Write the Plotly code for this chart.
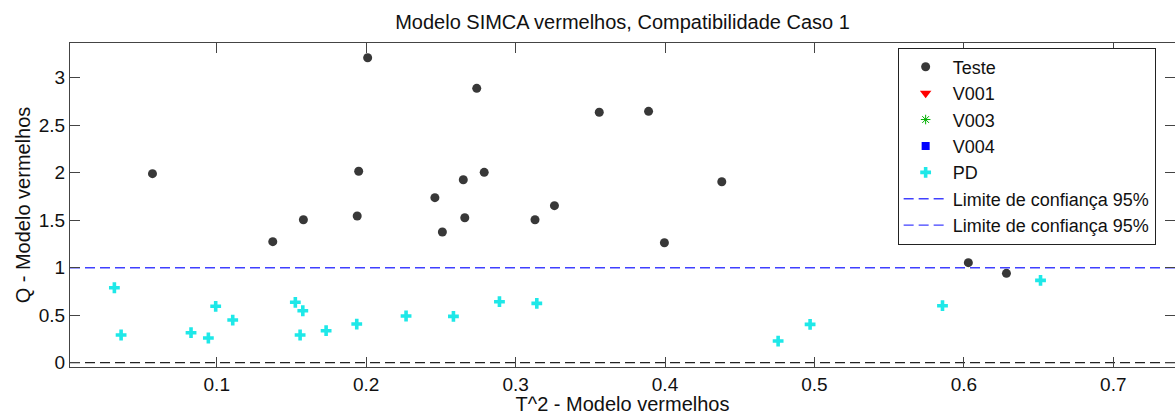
import plotly.graph_objects as go

# ---- data ----
teste_t2 = [0.057, 0.201, 0.195, 0.158, 0.194, 0.1375, 0.274, 0.356, 0.389, 0.265,
            0.279, 0.246, 0.438, 0.266, 0.313, 0.326, 0.251, 0.3996, 0.603, 0.6285]
teste_q = [1.99, 3.21, 2.015, 1.505, 1.544, 1.274, 2.888, 2.636, 2.646, 1.926,
           2.004, 1.737, 1.905, 1.526, 1.505, 1.653, 1.376, 1.263, 1.053, 0.941]

pd_t2 = [0.0315, 0.036, 0.0828, 0.0944, 0.0993, 0.1107, 0.1526, 0.1576, 0.1558, 0.1732,
         0.1937, 0.2267, 0.2584, 0.2892, 0.3142, 0.4757, 0.4971, 0.5857, 0.6513]
pd_q = [0.789, 0.292, 0.316, 0.26, 0.594, 0.449, 0.636, 0.547, 0.292, 0.337,
        0.407, 0.492, 0.488, 0.642, 0.625, 0.228, 0.404, 0.60, 0.867]

q_limit = 1.0
zero_level = 0.0

x_range = [0.0018, 0.7413]
y_range = [-0.045, 3.365]
x_ticks = [0.1, 0.2, 0.3, 0.4, 0.5, 0.6, 0.7]
x_ticklabels = ["0.1", "0.2", "0.3", "0.4", "0.5", "0.6", "0.7"]
y_ticks = [0, 0.5, 1, 1.5, 2, 2.5, 3]
y_ticklabels = ["0", "0.5", "1", "1.5", "2", "2.5", "3"]

FONT = "Liberation Sans, Arial, sans-serif"
DASH = "10px,5px"
BLUE_LINE = "#4040ff"

fig = go.Figure()

fig.add_trace(go.Scatter(
    x=teste_t2, y=teste_q, mode="markers", name="Teste",
    marker=dict(symbol="circle", size=9, color="#383838", line=dict(width=0))))
fig.add_trace(go.Scatter(
    x=[None], y=[None], mode="markers", name="V001",
    marker=dict(symbol="triangle-down", size=10, color="#ff0000", line=dict(width=0))))
fig.add_trace(go.Scatter(
    x=[None], y=[None], mode="markers", name="V003",
    marker=dict(symbol="asterisk-open", size=8, color="#00b000", line=dict(width=1, color="#00b000"))))
fig.add_trace(go.Scatter(
    x=[None], y=[None], mode="markers", name="V004",
    marker=dict(symbol="square", size=8, color="#0000ff", line=dict(width=0))))
fig.add_trace(go.Scatter(
    x=pd_t2, y=pd_q, mode="markers", name="PD",
    marker=dict(symbol="cross", size=9, color="#1ee8e8", line=dict(width=0))))
fig.add_trace(go.Scatter(
    x=x_range, y=[q_limit, q_limit], mode="lines", name="Limite de confiança 95%",
    line=dict(color=BLUE_LINE, width=1.4, dash=DASH)))
fig.add_trace(go.Scatter(
    x=[None], y=[None], mode="lines", name="Limite de confiança 95%",
    line=dict(color=BLUE_LINE, width=1.4, dash=DASH)))
fig.add_trace(go.Scatter(
    x=x_range, y=[zero_level, zero_level], mode="lines", showlegend=False,
    line=dict(color="#222222", width=1.2, dash=DASH)))

axis_common = dict(
    showgrid=False, zeroline=False, showline=True, linecolor="#444444", linewidth=1,
    mirror="ticks", ticks="inside", ticklen=10, tickcolor="#444444", tickwidth=1,
    tickfont=dict(family=FONT, size=19, color="#111111"),
)

fig.update_layout(
    width=1175, height=415,
    margin=dict(l=70, r=0, t=43, b=48, autoexpand=False),
    paper_bgcolor="white", plot_bgcolor="white",
    font=dict(family=FONT, size=19, color="#111111"),
    title=dict(text="Modelo SIMCA vermelhos, Compatibilidade Caso 1",
               x=0.5, xref="paper", xanchor="center",
               y=1 - 22 / 415, yref="container", yanchor="middle",
               font=dict(family=FONT, size=20, color="#111111")),
    xaxis=dict(range=x_range, tickvals=x_ticks, ticktext=x_ticklabels,
               title=dict(text="T^2 - Modelo vermelhos", standoff=0,
                          font=dict(family=FONT, size=20, color="#111111")),
               **axis_common),
    yaxis=dict(range=y_range, tickvals=y_ticks, ticktext=y_ticklabels,
               title=dict(text="Q - Modelo vermelhos", standoff=2,
                          font=dict(family=FONT, size=20, color="#111111")),
               **axis_common),
    legend=dict(x=0.749, y=0.986, xanchor="left", yanchor="top",
                bgcolor="white", bordercolor="#222222", borderwidth=1,
                font=dict(family=FONT, size=18, color="#111111"),
                itemwidth=44, tracegroupgap=0),
    showlegend=True,
)

fig.write_html("out.html", config={"displayModeBar": False},
               post_script="document.body.style.margin='0';document.body.style.padding='0';")
